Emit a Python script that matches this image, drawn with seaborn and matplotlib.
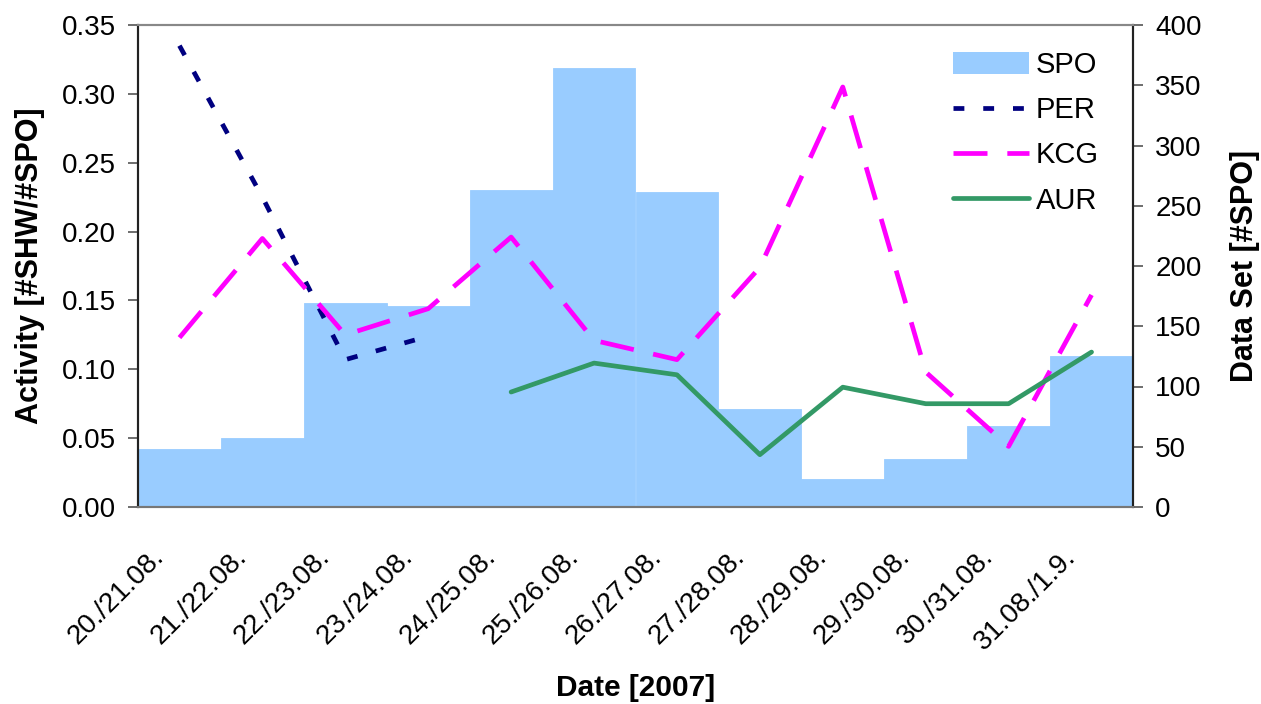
import matplotlib
matplotlib.use("Agg")
import matplotlib.pyplot as plt
import matplotlib.transforms as mtransforms
import seaborn as sns
import numpy as np
import pandas as pd
from matplotlib.patches import Patch
from matplotlib.lines import Line2D

dates = ["20./21.08.", "21./22.08.", "22./23.08.", "23./24.08.", "24./25.08.",
         "25./26.08.", "26./27.08.", "27./28.08.", "28./29.08.", "29./30.08.",
         "30./31.08.", "31.08./1.9."]
spo = [48, 57, 169, 167, 263, 364, 261, 81, 23, 40, 67, 125]
per = [0.335, 0.225, 0.107, 0.124, None, None, None, None, None, None, None, None]
kcg = [0.123, 0.195, 0.125, 0.144, 0.196, 0.121, 0.107, 0.174, 0.305, 0.098, 0.044, 0.154]
aur = [None, None, None, None, 0.0835, 0.1045, 0.096, 0.038, 0.087, 0.075, 0.075, 0.1125]

sns.set_style("white")
plt.rcParams['font.family'] = ['Liberation Sans', 'DejaVu Sans']
plt.rcParams['text.color'] = 'black'
plt.rcParams['axes.labelcolor'] = 'black'
plt.rcParams['xtick.color'] = '#555555'
plt.rcParams['ytick.color'] = '#555555'
plt.rcParams['xtick.labelcolor'] = 'black'
plt.rcParams['ytick.labelcolor'] = 'black'

fig = plt.figure(figsize=(12.61, 7.04), dpi=100)
ax = fig.add_axes([138/1261, 1 - 507/704, (1133-138)/1261, (507-25)/704])
ax2 = ax.twinx()

pos = np.arange(len(dates))
df_bar = pd.DataFrame({"pos": pos, "spo": spo})
sns.barplot(data=df_bar, x="pos", y="spo", ax=ax2, color="#99CCFF", width=1.0,
            saturation=1, edgecolor="#99CCFF", linewidth=0.6)

def to_series(vals):
    return pd.Series([np.nan if v is None else v for v in vals], dtype=float)

df_lines = pd.DataFrame({"x": pos, "PER": to_series(per), "KCG": to_series(kcg), "AUR": to_series(aur)})

LW = 3.4
per_dash = (2.3, 4.0)
kcg_dash = (7.2, 4.2)
sns.lineplot(data=df_lines, x="x", y="PER", ax=ax, color="#000080", linewidth=LW)
sns.lineplot(data=df_lines, x="x", y="KCG", ax=ax, color="#FF00FF", linewidth=LW)
sns.lineplot(data=df_lines, x="x", y="AUR", ax=ax, color="#339966", linewidth=LW)
lines = ax.get_lines()
lines[0].set_dashes(per_dash)
lines[0].set_dash_capstyle('butt')
lines[1].set_dashes(kcg_dash)
lines[1].set_dash_capstyle('butt')

ax.set_zorder(ax2.get_zorder() + 1)
ax.patch.set_visible(False)

ax.set_xlim(-0.5, 11.5)
ax.set_ylim(0, 0.35)
ax2.set_ylim(0, 400)
yt = np.arange(0, 0.351, 0.05)
ax.set_yticks(yt)
ax.set_yticklabels([f"{v:.2f}" for v in yt])
ax2.set_yticks(np.arange(0, 401, 50))
ax.set_xticks(np.append(pos - 0.5, 11.5))
ax.set_xticklabels(dates + [""], rotation=45, ha="right", va="center",
                   rotation_mode="anchor")
ax2.set_xlabel("")

ax2.set_ylabel("Data Set [#SPO]", fontsize=22, fontweight="bold")
ax.set_ylabel("Activity [#SHW/#SPO]", fontsize=22, fontweight="bold")
ax.set_xlabel("Date [2007]", fontsize=21.5, fontweight="bold")
ax.yaxis.set_label_coords((45 - 138) / 995, 0.5)
ax2.yaxis.set_label_coords((1230 - 138) / 995, 0.5)
ax.xaxis.set_label_coords((636 - 138) / 995, (507 - 674) / 482)

for a in (ax, ax2):
    a.tick_params(axis="y", labelsize=20, direction="out", length=7, width=1.2, pad=9)
ax.tick_params(axis="x", labelsize=20, direction="out", length=6, width=1.2, pad=27)
for a in (ax, ax2):
    for s in a.spines.values():
        s.set_visible(True)
        s.set_linewidth(1.5)
    a.spines["left"].set_color("#222222")
    a.spines["right"].set_color("#222222")
    a.spines["bottom"].set_color("#777777")
    a.spines["top"].set_color("#888888")
ax.grid(False); ax2.grid(False)

offset = mtransforms.ScaledTranslation(22/100, 0, fig.dpi_scale_trans)
for lbl in ax.get_xticklabels():
    lbl.set_transform(lbl.get_transform() + offset)

handles = [Patch(facecolor="#99CCFF", edgecolor="none"),
           Line2D([], [], color="#000080", linewidth=LW, dashes=per_dash),
           Line2D([], [], color="#FF00FF", linewidth=LW, dashes=kcg_dash),
           Line2D([], [], color="#339966", linewidth=LW)]
leg = fig.legend(handles, ["SPO", "PER", "KCG", "AUR"], loc="upper left",
                 bbox_to_anchor=(953/1261, 1 - 51/704), frameon=False, fontsize=21,
                 handlelength=2.6, handleheight=0.75, handletextpad=0.25,
                 labelspacing=0.59, borderpad=0, borderaxespad=0)

fig.savefig("out.png", dpi=100)
